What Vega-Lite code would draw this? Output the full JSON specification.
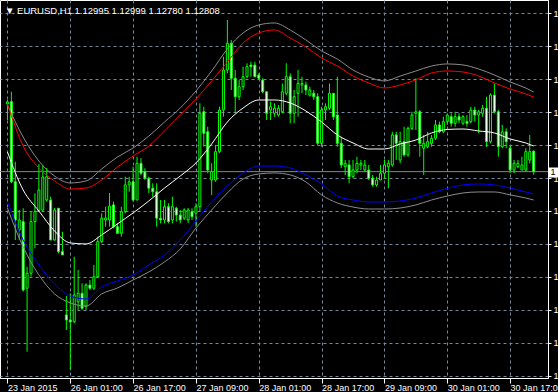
{
"$schema": "https://vega.github.io/schema/vega-lite/v6.json",
"width": 548, "height": 378,
"autosize": "none",
"padding": {"left": 0, "top": 0, "right": 10, "bottom": 14},
"background": "black",
"title": {"text": "▼ EURUSD,H1  1.12995 1.12999 1.12780 1.12808", "anchor": "start", "frame": "group", "orient": "top", "offset": -23, "baseline": "alphabetic", "dx": 5, "color": "white", "fontSize": 9.5, "fontWeight": "normal", "font": "Liberation Sans"},
"config": {"view": {"stroke": "white", "fill": "black"}, "font": "Liberation Sans"},
"datasets": {
"bid": [{"bid": 1.12808}],
"candles": [
{"i":0,"o":1.13424,"h":1.1346,"l":1.13278,"c":1.13442},
{"i":1,"o":1.13445,"h":1.13535,"l":1.12702,"c":1.12716},
{"i":2,"o":1.12716,"h":1.12898,"l":1.12186,"c":1.12368},
{"i":3,"o":1.12277,"h":1.12459,"l":1.12186,"c":1.12368},
{"i":4,"o":1.12353,"h":1.12475,"l":1.11716,"c":1.11731},
{"i":5,"o":1.11747,"h":1.11943,"l":1.11169,"c":1.11883},
{"i":6,"o":1.11883,"h":1.12444,"l":1.11852,"c":1.12353},
{"i":7,"o":1.12353,"h":1.12611,"l":1.12111,"c":1.12444},
{"i":8,"o":1.1245,"h":1.12878,"l":1.12441,"c":1.12641},
{"i":9,"o":1.12459,"h":1.12869,"l":1.12441,"c":1.12759},
{"i":10,"o":1.1255,"h":1.12841,"l":1.12535,"c":1.12762},
{"i":11,"o":1.1255,"h":1.1258,"l":1.12186,"c":1.12186},
{"i":12,"o":1.12186,"h":1.12477,"l":1.1218,"c":1.12459},
{"i":13,"o":1.12475,"h":1.12477,"l":1.12065,"c":1.1208},
{"i":14,"o":1.1208,"h":1.12261,"l":1.1205,"c":1.1205},
{"i":15,"o":1.11504,"h":1.11676,"l":1.11367,"c":1.11458},
{"i":16,"o":1.11458,"h":1.11701,"l":1.11003,"c":1.1144},
{"i":17,"o":1.11442,"h":1.12034,"l":1.11428,"c":1.11685},
{"i":18,"o":1.11624,"h":1.11913,"l":1.11549,"c":1.11701},
{"i":19,"o":1.11701,"h":1.11792,"l":1.11549,"c":1.11564},
{"i":20,"o":1.11579,"h":1.11792,"l":1.11549,"c":1.11776},
{"i":21,"o":1.11776,"h":1.11822,"l":1.11731,"c":1.11747},
{"i":22,"o":1.11747,"h":1.11959,"l":1.11731,"c":1.11852},
{"i":23,"o":1.11852,"h":1.12216,"l":1.11838,"c":1.12171},
{"i":24,"o":1.12171,"h":1.12429,"l":1.12156,"c":1.12384},
{"i":25,"o":1.12368,"h":1.12489,"l":1.12307,"c":1.12386},
{"i":26,"o":1.12368,"h":1.12614,"l":1.12307,"c":1.12495},
{"i":27,"o":1.12505,"h":1.12535,"l":1.12293,"c":1.12307},
{"i":28,"o":1.12307,"h":1.12341,"l":1.12247,"c":1.12247},
{"i":29,"o":1.12247,"h":1.12489,"l":1.12216,"c":1.12444},
{"i":30,"o":1.12444,"h":1.12762,"l":1.12429,"c":1.12687},
{"i":31,"o":1.12687,"h":1.12762,"l":1.12625,"c":1.12716},
{"i":32,"o":1.12716,"h":1.12853,"l":1.12535,"c":1.1255},
{"i":33,"o":1.1255,"h":1.12944,"l":1.1255,"c":1.12884},
{"i":34,"o":1.12884,"h":1.1293,"l":1.12778,"c":1.12793},
{"i":35,"o":1.12808,"h":1.12839,"l":1.12732,"c":1.12748},
{"i":36,"o":1.12748,"h":1.12762,"l":1.12611,"c":1.12657},
{"i":37,"o":1.12657,"h":1.12702,"l":1.1258,"c":1.12625},
{"i":38,"o":1.12625,"h":1.12702,"l":1.12307,"c":1.12384},
{"i":39,"o":1.12384,"h":1.1255,"l":1.12338,"c":1.12368},
{"i":40,"o":1.12368,"h":1.1255,"l":1.12338,"c":1.12489},
{"i":41,"o":1.12489,"h":1.1252,"l":1.12338,"c":1.12353},
{"i":42,"o":1.12368,"h":1.1258,"l":1.12338,"c":1.12489},
{"i":43,"o":1.12475,"h":1.12489,"l":1.12353,"c":1.12413},
{"i":44,"o":1.12413,"h":1.12459,"l":1.12338,"c":1.12368},
{"i":45,"o":1.12384,"h":1.12475,"l":1.12368,"c":1.12459},
{"i":46,"o":1.12368,"h":1.12477,"l":1.12341,"c":1.12459},
{"i":47,"o":1.12444,"h":1.12475,"l":1.12368,"c":1.12398},
{"i":48,"o":1.12429,"h":1.1252,"l":1.12307,"c":1.12489},
{"i":49,"o":1.12489,"h":1.1343,"l":1.12444,"c":1.13339},
{"i":50,"o":1.13353,"h":1.13399,"l":1.13035,"c":1.13157},
{"i":51,"o":1.13171,"h":1.13217,"l":1.12793,"c":1.12823},
{"i":52,"o":1.12732,"h":1.12884,"l":1.12595,"c":1.12808},
{"i":53,"o":1.12732,"h":1.13051,"l":1.12716,"c":1.1299},
{"i":54,"o":1.1299,"h":1.13399,"l":1.12975,"c":1.13369},
{"i":55,"o":1.13369,"h":1.13854,"l":1.13308,"c":1.13733},
{"i":56,"o":1.13733,"h":1.14188,"l":1.13703,"c":1.13976},
{"i":57,"o":1.13976,"h":1.14006,"l":1.13551,"c":1.13658},
{"i":58,"o":1.13658,"h":1.13733,"l":1.13339,"c":1.1349},
{"i":59,"o":1.1349,"h":1.13642,"l":1.1346,"c":1.13581},
{"i":60,"o":1.13581,"h":1.13763,"l":1.13551,"c":1.13672},
{"i":61,"o":1.13672,"h":1.13794,"l":1.13658,"c":1.13763},
{"i":62,"o":1.13778,"h":1.13808,"l":1.13672,"c":1.13763},
{"i":63,"o":1.13778,"h":1.13808,"l":1.13672,"c":1.13672},
{"i":64,"o":1.13687,"h":1.13703,"l":1.13642,"c":1.13658},
{"i":65,"o":1.13642,"h":1.13658,"l":1.13521,"c":1.13535},
{"i":66,"o":1.13535,"h":1.13535,"l":1.13278,"c":1.13339},
{"i":67,"o":1.13369,"h":1.13445,"l":1.13278,"c":1.13399},
{"i":68,"o":1.13339,"h":1.1343,"l":1.13308,"c":1.13385},
{"i":69,"o":1.13323,"h":1.13414,"l":1.13308,"c":1.13385},
{"i":70,"o":1.13353,"h":1.1361,"l":1.13339,"c":1.13535},
{"i":71,"o":1.13521,"h":1.13794,"l":1.13505,"c":1.13672},
{"i":72,"o":1.13672,"h":1.13703,"l":1.13248,"c":1.13339},
{"i":73,"o":1.13339,"h":1.13551,"l":1.13248,"c":1.1349},
{"i":74,"o":1.13521,"h":1.13733,"l":1.13308,"c":1.1361},
{"i":75,"o":1.13597,"h":1.13672,"l":1.13521,"c":1.1361},
{"i":76,"o":1.13597,"h":1.13627,"l":1.13505,"c":1.13551},
{"i":77,"o":1.13505,"h":1.13581,"l":1.1349,"c":1.13551},
{"i":78,"o":1.13521,"h":1.13551,"l":1.1346,"c":1.1349},
{"i":79,"o":1.1349,"h":1.13521,"l":1.13051,"c":1.13066},
{"i":80,"o":1.13066,"h":1.13399,"l":1.13035,"c":1.13369},
{"i":81,"o":1.13369,"h":1.1343,"l":1.13278,"c":1.13399},
{"i":82,"o":1.13385,"h":1.1361,"l":1.13369,"c":1.13521},
{"i":83,"o":1.13521,"h":1.13521,"l":1.13278,"c":1.13308},
{"i":84,"o":1.13323,"h":1.13672,"l":1.13035,"c":1.13066},
{"i":85,"o":1.13066,"h":1.13126,"l":1.12839,"c":1.12869},
{"i":86,"o":1.12853,"h":1.12914,"l":1.12778,"c":1.12884},
{"i":87,"o":1.12869,"h":1.12914,"l":1.12702,"c":1.12762},
{"i":88,"o":1.12762,"h":1.12914,"l":1.12748,"c":1.12823},
{"i":89,"o":1.12823,"h":1.12944,"l":1.12793,"c":1.12884},
{"i":90,"o":1.12869,"h":1.12914,"l":1.12823,"c":1.12884},
{"i":91,"o":1.12823,"h":1.12914,"l":1.12805,"c":1.12869},
{"i":92,"o":1.12823,"h":1.12869,"l":1.12732,"c":1.12748},
{"i":93,"o":1.12748,"h":1.12778,"l":1.12671,"c":1.12687},
{"i":94,"o":1.12687,"h":1.12762,"l":1.12671,"c":1.12732},
{"i":95,"o":1.12732,"h":1.12869,"l":1.12732,"c":1.12793},
{"i":96,"o":1.12793,"h":1.12914,"l":1.12748,"c":1.12869},
{"i":97,"o":1.12853,"h":1.12914,"l":1.12657,"c":1.12884},
{"i":98,"o":1.12869,"h":1.13171,"l":1.12853,"c":1.13142},
{"i":99,"o":1.13142,"h":1.13171,"l":1.12914,"c":1.13066},
{"i":100,"o":1.12914,"h":1.13171,"l":1.12884,"c":1.13081},
{"i":101,"o":1.13081,"h":1.13217,"l":1.12944,"c":1.1296},
{"i":102,"o":1.1296,"h":1.13217,"l":1.12944,"c":1.13202},
{"i":103,"o":1.13202,"h":1.13353,"l":1.13187,"c":1.13323},
{"i":104,"o":1.13339,"h":1.13658,"l":1.13187,"c":1.13353},
{"i":105,"o":1.13353,"h":1.13369,"l":1.12944,"c":1.13066},
{"i":106,"o":1.13021,"h":1.13142,"l":1.12778,"c":1.13066},
{"i":107,"o":1.13035,"h":1.13171,"l":1.13021,"c":1.13081},
{"i":108,"o":1.13066,"h":1.13142,"l":1.13035,"c":1.13112},
{"i":109,"o":1.13112,"h":1.13278,"l":1.13096,"c":1.13233},
{"i":110,"o":1.13233,"h":1.13263,"l":1.13157,"c":1.13171},
{"i":111,"o":1.13171,"h":1.13308,"l":1.13157,"c":1.13263},
{"i":112,"o":1.13263,"h":1.13339,"l":1.13233,"c":1.13323},
{"i":113,"o":1.13308,"h":1.13339,"l":1.13217,"c":1.13248},
{"i":114,"o":1.13248,"h":1.13353,"l":1.13217,"c":1.13308},
{"i":115,"o":1.13308,"h":1.13339,"l":1.13248,"c":1.13278},
{"i":116,"o":1.13248,"h":1.13323,"l":1.13233,"c":1.13308},
{"i":117,"o":1.13263,"h":1.13323,"l":1.13217,"c":1.13248},
{"i":118,"o":1.13263,"h":1.13399,"l":1.13248,"c":1.13369},
{"i":119,"o":1.13369,"h":1.13399,"l":1.13263,"c":1.13323},
{"i":120,"o":1.13323,"h":1.13369,"l":1.13157,"c":1.13353},
{"i":121,"o":1.13339,"h":1.13414,"l":1.13308,"c":1.13385},
{"i":122,"o":1.13385,"h":1.1349,"l":1.13035,"c":1.13081},
{"i":123,"o":1.13081,"h":1.13521,"l":1.13066,"c":1.13505},
{"i":124,"o":1.13505,"h":1.1361,"l":1.13339,"c":1.13353},
{"i":125,"o":1.13353,"h":1.13369,"l":1.12944,"c":1.13035},
{"i":126,"o":1.13035,"h":1.13233,"l":1.13021,"c":1.13171},
{"i":127,"o":1.13171,"h":1.13202,"l":1.13021,"c":1.13081},
{"i":128,"o":1.13021,"h":1.13051,"l":1.12793,"c":1.12823},
{"i":129,"o":1.12823,"h":1.12914,"l":1.12793,"c":1.12884},
{"i":130,"o":1.12853,"h":1.12914,"l":1.12839,"c":1.12884},
{"i":131,"o":1.12823,"h":1.12944,"l":1.12823,"c":1.12869},
{"i":132,"o":1.12823,"h":1.13021,"l":1.12808,"c":1.1299},
{"i":133,"o":1.12914,"h":1.13142,"l":1.12884,"c":1.1299},
{"i":134,"o":1.12995,"h":1.12999,"l":1.1278,"c":1.12808}
],
"bands": [
{"i":0,"mid":1.12987,"up":1.13424,"up2":1.13415,"dn":1.12532,"dn2":1.12477},
{"i":4,"mid":1.12641,"up":1.13041,"up2":1.13123,"dn":1.12186,"dn2":1.12122},
{"i":8,"mid":1.1245,"up":1.12841,"up2":1.12905,"dn":1.11959,"dn2":1.11868},
{"i":12,"mid":1.12268,"up":1.12723,"up2":1.12768,"dn":1.11786,"dn2":1.11695},
{"i":16,"mid":1.12159,"up":1.1265,"up2":1.12705,"dn":1.11676,"dn2":1.11613},
{"i":20,"mid":1.1215,"up":1.12659,"up2":1.12723,"dn":1.11649,"dn2":1.11585},
{"i":24,"mid":1.12232,"up":1.12732,"up2":1.12832,"dn":1.11758,"dn2":1.11695},
{"i":28,"mid":1.12332,"up":1.1285,"up2":1.12941,"dn":1.11813,"dn2":1.11749},
{"i":32,"mid":1.12432,"up":1.1295,"up2":1.13023,"dn":1.11868,"dn2":1.11822},
{"i":36,"mid":1.12541,"up":1.13041,"up2":1.13132,"dn":1.11959,"dn2":1.11895},
{"i":40,"mid":1.12659,"up":1.13178,"up2":1.1326,"dn":1.1205,"dn2":1.11986},
{"i":44,"mid":1.12768,"up":1.13324,"up2":1.13387,"dn":1.12186,"dn2":1.12104},
{"i":48,"mid":1.12887,"up":1.13469,"up2":1.13542,"dn":1.12359,"dn2":1.12295},
{"i":52,"mid":1.1306,"up":1.13633,"up2":1.13724,"dn":1.12532,"dn2":1.12459},
{"i":56,"mid":1.1326,"up":1.13806,"up2":1.13924,"dn":1.12677,"dn2":1.12614},
{"i":60,"mid":1.13387,"up":1.13979,"up2":1.1407,"dn":1.12796,"dn2":1.12741},
{"i":64,"mid":1.1346,"up":1.1407,"up2":1.14143,"dn":1.12859,"dn2":1.12787},
{"i":68,"mid":1.1346,"up":1.14097,"up2":1.14161,"dn":1.12859,"dn2":1.12796},
{"i":72,"mid":1.13433,"up":1.14024,"up2":1.14097,"dn":1.12841,"dn2":1.12778},
{"i":76,"mid":1.1336,"up":1.13942,"up2":1.14006,"dn":1.12778,"dn2":1.12714},
{"i":80,"mid":1.1326,"up":1.13842,"up2":1.13906,"dn":1.12696,"dn2":1.12596},
{"i":84,"mid":1.13142,"up":1.13769,"up2":1.13833,"dn":1.12586,"dn2":1.12523},
{"i":88,"mid":1.13069,"up":1.13678,"up2":1.13733,"dn":1.1255,"dn2":1.12486},
{"i":92,"mid":1.13014,"up":1.13615,"up2":1.13669,"dn":1.12532,"dn2":1.12468},
{"i":96,"mid":1.13014,"up":1.13569,"up2":1.13633,"dn":1.12532,"dn2":1.12468},
{"i":100,"mid":1.1306,"up":1.13597,"up2":1.13678,"dn":1.12541,"dn2":1.12477},
{"i":104,"mid":1.13096,"up":1.13642,"up2":1.13724,"dn":1.12568,"dn2":1.12505},
{"i":108,"mid":1.1316,"up":1.13706,"up2":1.13769,"dn":1.12614,"dn2":1.1255},
{"i":112,"mid":1.13192,"up":1.13724,"up2":1.13788,"dn":1.12655,"dn2":1.12586},
{"i":116,"mid":1.13196,"up":1.13715,"up2":1.13779,"dn":1.12687,"dn2":1.12614},
{"i":120,"mid":1.13178,"up":1.13678,"up2":1.13742,"dn":1.12696,"dn2":1.12623},
{"i":124,"mid":1.1316,"up":1.13615,"up2":1.13688,"dn":1.12687,"dn2":1.12623},
{"i":128,"mid":1.13105,"up":1.1356,"up2":1.13624,"dn":1.12659,"dn2":1.12596},
{"i":132,"mid":1.13069,"up":1.13515,"up2":1.13569,"dn":1.12623,"dn2":1.12568},
{"i":134,"mid":1.13041,"up":1.13487,"up2":1.13533,"dn":1.12605,"dn2":1.1255}
]
},
"layer": [
{"data": {"name": "candles"},
 "mark": {"type": "rule", "color": "#00ff00", "strokeWidth": 1},
 "encoding": {
  "x": {"field": "i", "type": "quantitative", "scale": {"domain": [-0.625, 136.375], "nice": false, "zero": false},
   "axis": {"orient": "bottom", "title": null, "values": [0,8,16,24,32,40,48,56,64,72,80,88,96,104,112,120,128,136],
    "grid": true, "gridColor": "#778899", "gridDash": [3,3], "gridOpacity": 1,
    "domain": true, "domainColor": "white",
    "ticks": true, "tickColor": "white", "tickSize": 5, "tickOpacity": {"condition": {"test": "datum.value % 16 === 0", "value": 1}, "value": 0},
    "labelExpr": "datum.value % 16 === 0 ? ['23 Jan 2015','26 Jan 01:00','26 Jan 17:00','27 Jan 09:00','28 Jan 01:00','28 Jan 17:00','29 Jan 09:00','30 Jan 01:00','30 Jan 17:00'][datum.value/16] : ''",
    "labelAlign": "left", "labelBaseline": "top", "labelPadding": 0, "labelColor": "white", "labelFontSize": 9, "labelFont": "Liberation Sans",
    "labelOverlap": false, "labelFlush": false, "labelBound": false}},
  "y": {"field": "l", "type": "quantitative", "scale": {"domain": [1.1093, 1.1437], "nice": false, "zero": false},
   "axis": {"orient": "right", "title": null, "values": [1.1425,1.1395,1.1365,1.1335,1.1305,1.1275,1.1245,1.1215,1.1185,1.1155,1.1125,1.1095],
    "format": ".0f", "grid": true, "gridColor": "#778899", "gridDash": [3,3], "gridOpacity": 1,
    "domain": true, "domainColor": "white", "ticks": true, "tickColor": "white", "tickSize": 3,
    "labelColor": "white", "labelFontSize": 9, "labelFont": "Liberation Sans", "labelPadding": 2, "labelAlign": "left", "labelBaseline": "middle", "labelOverlap": false, "labelBound": false, "labelFlush": false}},
  "y2": {"field": "h"}
 }},
{"data": {"name": "bid"},
 "mark": {"type": "rule", "color": "#778899", "strokeWidth": 1},
 "encoding": {
  "y": {"field": "bid", "type": "quantitative",
   "axis": {"orient": "right", "title": null, "values": [1.12808], "format": ".0f", "grid": false, "domain": false,
    "ticks": true, "tickColor": "white", "tickSize": 10, "tickWidth": 10,
    "labelColor": "black", "labelFontSize": 9, "labelFont": "Liberation Sans", "labelPadding": -8, "labelAlign": "left", "labelBaseline": "middle", "zindex": 2}}
 }},
{"data": {"name": "candles"},
 "mark": {"type": "bar", "size": 2, "stroke": "#00ff00", "strokeWidth": 1},
 "encoding": {
  "x": {"field": "i", "type": "quantitative"},
  "y": {"field": "o", "type": "quantitative", "axis": null},
  "y2": {"field": "c"},
  "fill": {"condition": {"test": "datum.c < datum.o", "value": "white"}, "value": "black"}
 }},
{"data": {"name": "bands"}, "mark": {"type": "line", "color": "#8c8c8c", "strokeWidth": 1, "interpolate": "monotone"},
 "encoding": {"x": {"field": "i", "type": "quantitative"}, "y": {"field": "up2", "type": "quantitative", "axis": null}}},
{"data": {"name": "bands"}, "mark": {"type": "line", "color": "#ff0000", "strokeWidth": 1, "interpolate": "monotone"},
 "encoding": {"x": {"field": "i", "type": "quantitative"}, "y": {"field": "up", "type": "quantitative", "axis": null}}},
{"data": {"name": "bands"}, "mark": {"type": "line", "color": "#ffffff", "strokeWidth": 1, "interpolate": "monotone"},
 "encoding": {"x": {"field": "i", "type": "quantitative"}, "y": {"field": "mid", "type": "quantitative", "axis": null}}},
{"data": {"name": "bands"}, "mark": {"type": "line", "color": "#0000ff", "strokeWidth": 1, "interpolate": "monotone"},
 "encoding": {"x": {"field": "i", "type": "quantitative"}, "y": {"field": "dn", "type": "quantitative", "axis": null}}},
{"data": {"name": "bands"}, "mark": {"type": "line", "color": "#8c8c8c", "strokeWidth": 1, "interpolate": "monotone"},
 "encoding": {"x": {"field": "i", "type": "quantitative"}, "y": {"field": "dn2", "type": "quantitative", "axis": null}}}
],
"resolve": {"axis": {"y": "independent"}}
}
